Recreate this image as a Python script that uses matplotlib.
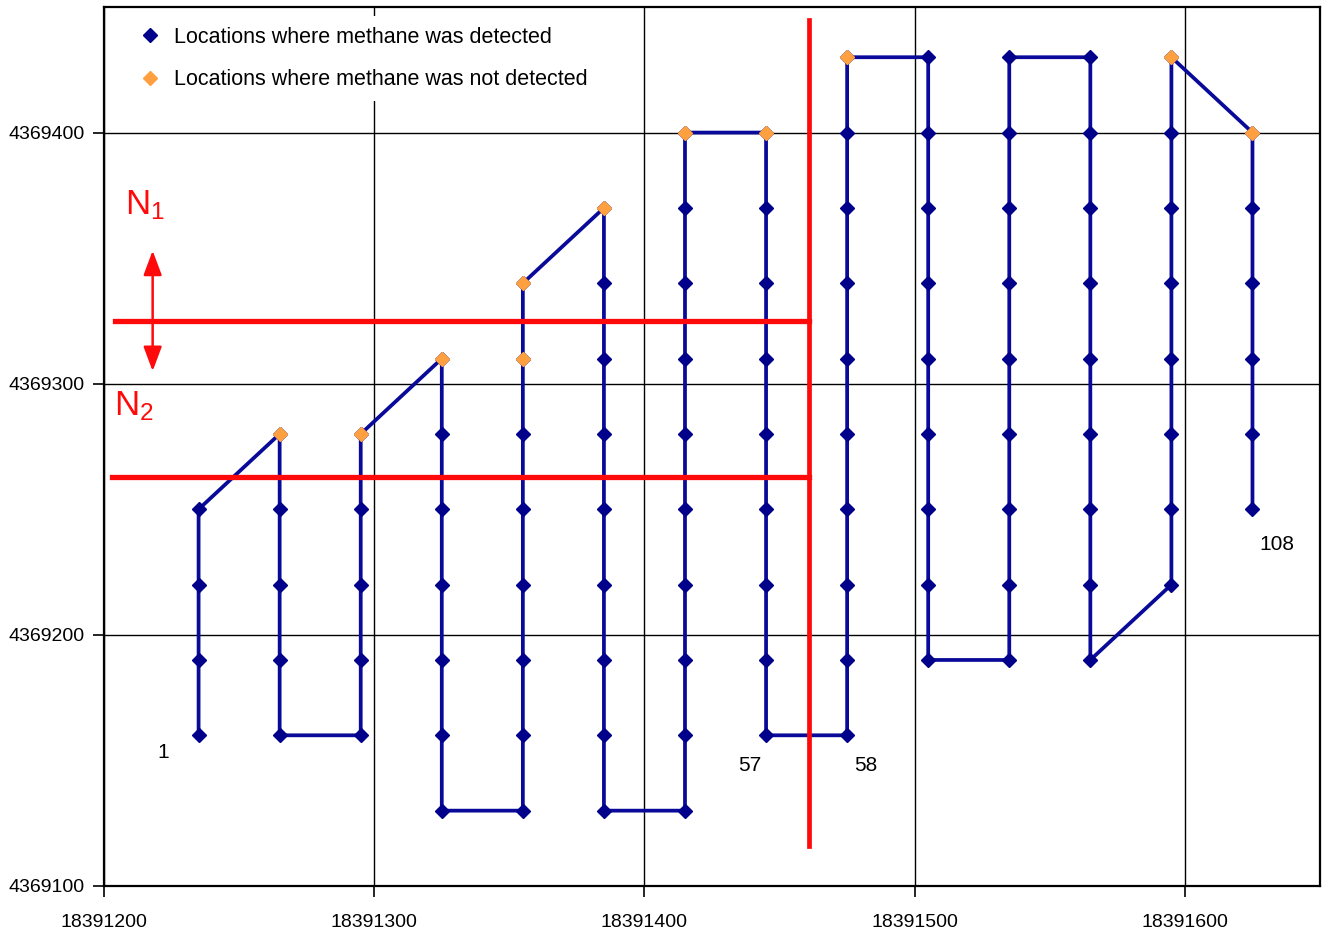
import matplotlib.pyplot as plt
from matplotlib.lines import Line2D

plt.rcParams['font.family'] = ['Liberation Sans', 'DejaVu Sans']
plt.rcParams['mathtext.fontset'] = 'custom'
plt.rcParams['mathtext.rm'] = 'Liberation Sans'
plt.rcParams['mathtext.it'] = 'Liberation Sans'

X0 = 18391200
Y0 = 4369100

# survey path, column by column (offsets from X0 / Y0, in walking order)
col_x = [35, 65, 95, 125, 155, 185, 215, 245, 275, 305, 335, 365, 395, 425]
col_y = [
    [60, 90, 120, 150],
    [180, 150, 120, 90, 60],
    [60, 90, 120, 150, 180],
    [210, 180, 150, 120, 90, 60, 30],
    [30, 60, 90, 120, 150, 180, 210, 240],
    [270, 240, 210, 180, 150, 120, 90, 60, 30],
    [30, 60, 90, 120, 150, 180, 210, 240, 270, 300],
    [300, 270, 240, 210, 180, 150, 120, 90, 60],
    [60, 90, 120, 150, 180, 210, 240, 270, 300, 330],
    [330, 300, 270, 240, 210, 180, 150, 120, 90],
    [90, 120, 150, 180, 210, 240, 270, 300, 330],
    [330, 300, 270, 240, 210, 180, 150, 120, 90],
    [120, 150, 180, 210, 240, 270, 300, 330],
    [300, 270, 240, 210, 180, 150],
]

# points where methane was not detected
nd_x = [65, 95, 125, 155, 155, 185, 215, 245, 275, 395, 425]
nd_y = [180, 180, 210, 210, 240, 270, 300, 300, 330, 330, 300]

# point number labels
lab_text = ['1', '57', '58', '108']
lab_x = [22, 239, 282, 434]
lab_y = [53, 48, 48, 136]

# red boundary lines
h_lines_y = [225, 163]
h_lines_x0 = [4, 3]
v_line_x = 261
v_line_y = [16, 345]

px, py = [], []
for x, ys in zip(col_x, col_y):
    for y in ys:
        px.append(X0 + x)
        py.append(Y0 + y)

fig = plt.figure(figsize=(13.3, 9.34), dpi=100)
ax = fig.add_axes([0.0782, 0.0514, 0.9143, 0.9411])

ax.set_xlim(X0, X0 + 450)
ax.set_ylim(Y0, Y0 + 350)
ax.set_xticks([X0 + d for d in range(0, 500, 100)])
ax.set_yticks([Y0 + d for d in range(0, 400, 100)])
ax.ticklabel_format(useOffset=False, style='plain')
ax.grid(True, color='black', linewidth=1.0, zorder=0)
ax.tick_params(labelsize=14, length=8, width=1.2)
ax.tick_params(axis='x', pad=12)
ax.tick_params(axis='y', pad=6)
for s in ax.spines.values():
    s.set_linewidth(1.6)

ax.plot(px, py, color='#0a0a9a', linewidth=2.7, marker='D', markersize=7,
        markerfacecolor='#00008b', markeredgecolor='#00008b', zorder=3)
ax.plot([X0 + v for v in nd_x], [Y0 + v for v in nd_y], linestyle='none',
        marker='D', markersize=7.5, color='#ffa040', zorder=4)

for y, x0 in zip(h_lines_y, h_lines_x0):
    ax.plot([X0 + x0, X0 + v_line_x], [Y0 + y, Y0 + y], color='#ff0a0a',
            linewidth=3.8, zorder=5)
ax.plot([X0 + v_line_x] * 2, [Y0 + v_line_y[0], Y0 + v_line_y[1]],
        color='#ff0a0a', linewidth=3.4, zorder=5)

ax.annotate('', xy=(X0 + 18, Y0 + 253), xytext=(X0 + 18, Y0 + 205),
            arrowprops=dict(arrowstyle='<|-|>,head_length=0.75,head_width=0.28',
                            color='#ff0a0a', lw=1.8,
                            mutation_scale=20, shrinkA=0, shrinkB=0), zorder=6)
ax.text(X0 + 15, Y0 + 271, r'N$_1$', color='#ff0a0a', fontsize=25,
        ha='center', va='center', zorder=6)
ax.text(X0 + 11, Y0 + 191, r'N$_2$', color='#ff0a0a', fontsize=25,
        ha='center', va='center', zorder=6)

for t, x, y in zip(lab_text, lab_x, lab_y):
    ax.text(X0 + x, Y0 + y, t, fontsize=15, ha='center', va='center', zorder=6)

handles = [
    Line2D([], [], linestyle='none', marker='D', markersize=7, color='#00008b'),
    Line2D([], [], linestyle='none', marker='D', markersize=7.5, color='#ffa040'),
]
leg = ax.legend(handles, ['Locations where methane was detected',
                          'Locations where methane was not detected'],
                loc='upper left', bbox_to_anchor=(0.02, 0.99), fontsize=15.5,
                frameon=True, facecolor='white', edgecolor='none', framealpha=1,
                fancybox=False, labelspacing=1.0, handlelength=1.0,
                handletextpad=0.6, borderpad=0.5, borderaxespad=0)
leg.set_zorder(7)

plt.savefig('out.png', dpi=100)
plt.close()
